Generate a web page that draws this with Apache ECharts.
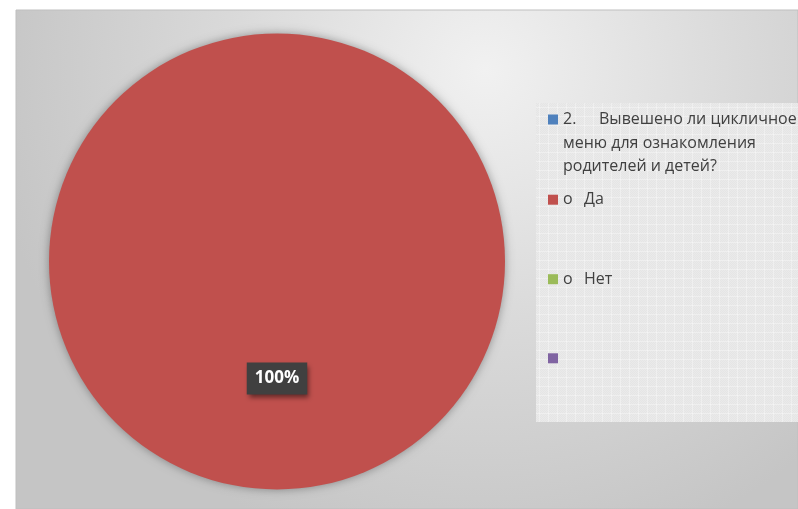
<!DOCTYPE html>
<html>
<head>
<meta charset="utf-8">
<script src="https://cdn.jsdelivr.net/npm/echarts@6/dist/echarts.min.js"></script>
<style>
  html, body { margin: 0; padding: 0; background: #ffffff; }
  #chart { width: 798px; height: 509px; }
</style>
</head>
<body>
<div id="chart"></div>
<script>
// ---- data ----
const categories = [
  '2.\tВывешено ли цикличное\nменю для ознакомления\nродителей и детей?',
  'о\tДа',
  'о\tНет',
  ' '
];
const values = [0, 100, 0, 0];
const colors = ['#4F81BD', '#C0504D', '#9BBB59', '#8064A2'];

// ---- styling helpers ----
const FONT = '"Open Sans", "Noto Sans", sans-serif';
const LH = 23.5;
const textColor = '#404040';
const legendIconCenters = [119.5, 199.7, 279.2, 358.3];

function legendFormatter(name) {
  const parts = name.split('\t');
  if (parts.length < 2) return name;
  const idx = categories.indexOf(name);
  const key = idx === 0 ? 'm1' : 'm2';
  const lines = parts[1].split('\n');
  let s = '{' + key + '|' + parts[0] + '}{t|' + lines[0] + '}';
  for (let i = 1; i < lines.length; i++) s += '\n{t|' + lines[i] + '}';
  return s;
}

// legend background pattern
const pc = document.createElement('canvas');
pc.width = 9; pc.height = 9;
const pctx = pc.getContext('2d');
pctx.fillStyle = '#e5e5e5';
pctx.fillRect(0, 0, 9, 9);
pctx.fillStyle = 'rgba(255,255,255,0.2)';
for (let i = 0; i < 8; i++) for (let j = 0; j < 8; j++) if ((i + j) % 2 === 0) pctx.fillRect(i, j, 1, 1);
pctx.fillStyle = 'rgba(255,255,255,0.4)';
pctx.fillRect(0, 8, 9, 1);
pctx.fillRect(8, 0, 1, 9);

const chart = echarts.init(document.getElementById('chart'), null, { renderer: 'canvas' });

const legends = categories.map(function (name, i) {
  const lines = name.split('\n').length;
  const padTop = (lines - 1) * LH;
  const h = lines * LH + padTop;
  return {
    data: [name],
    orient: 'vertical',
    left: 548,
    top: legendIconCenters[i] - h / 2,
    padding: 0,
    icon: 'rect',
    itemWidth: 10,
    itemHeight: 10,
    selectedMode: false,
    formatter: legendFormatter,
    textStyle: {
      color: textColor,
      fontFamily: FONT,
      fontSize: 16,
      lineHeight: LH,
      padding: [padTop, 0, 0, 0],
      rich: {
        m1: { width: 36, fontFamily: FONT, fontSize: 16, lineHeight: LH, color: textColor },
        m2: { width: 21, fontFamily: FONT, fontSize: 16, lineHeight: LH, color: textColor },
        t: { fontFamily: FONT, fontSize: 16, lineHeight: LH, color: textColor }
      }
    }
  };
});

const option = {
  animation: false,
  color: colors,
  graphic: [
    {
      type: 'rect',
      z: -10,
      shape: { x: 16, y: 10, width: 782, height: 499 },
      style: {
        fill: {
          type: 'radial', x: 0.6, y: 0.12, r: 1.0,
          colorStops: [
            { offset: 0, color: '#f1f1f1' },
            { offset: 0.5, color: '#dadada' },
            { offset: 1, color: '#c5c5c5' }
          ]
        },
        stroke: '#bfbfbf',
        lineWidth: 1
      },
      silent: true
    },
    {
      type: 'rect',
      z: -5,
      shape: { x: 536, y: 103, width: 262, height: 319 },
      style: { fill: { image: pc, repeat: 'repeat' } },
      silent: true
    }
  ],
  legend: legends,
  series: [
    {
      type: 'pie',
      center: [277, 261.5],
      radius: 228,
      startAngle: 90,
      clockwise: true,
      emphasis: { disabled: true },
      labelLine: { show: false },
      itemStyle: {
        borderWidth: 0,
        shadowBlur: 10,
        shadowColor: 'rgba(0,0,0,0.35)'
      },
      label: {
        show: true,
        position: 'inside',
        formatter: '{d}%',
        color: '#ffffff',
        fontFamily: FONT,
        fontWeight: 'bold',
        fontSize: 17,
        lineHeight: 20,
        backgroundColor: '#404040',
        padding: [6, 8, 6, 8],
        shadowBlur: 5,
        shadowOffsetX: 2,
        shadowOffsetY: 3,
        shadowColor: 'rgba(0,0,0,0.5)'
      },
      data: categories.map(function (name, i) {
        return {
          name: name,
          value: values[i],
          label: { show: values[i] > 0 }
        };
      })
    }
  ]
};

chart.setOption(option);
</script>
</body>
</html>
